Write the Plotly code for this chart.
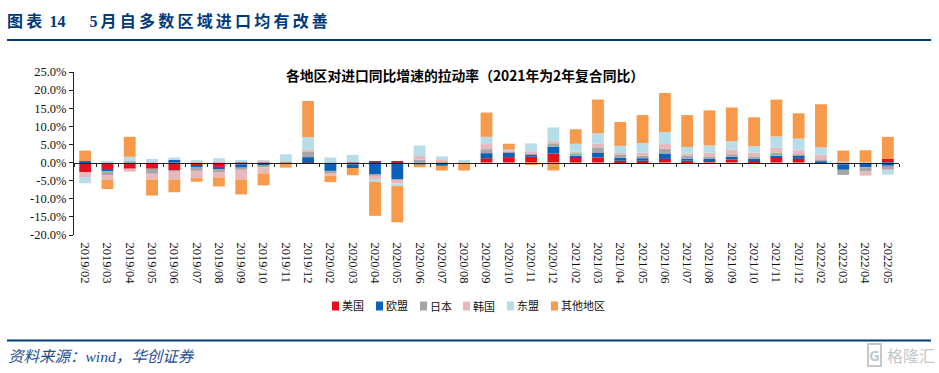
import plotly.graph_objects as go

months = ["2019/02","2019/03","2019/04","2019/05","2019/06","2019/07","2019/08","2019/09","2019/10","2019/11","2019/12",
          "2020/02","2020/03","2020/04","2020/05","2020/06","2020/07","2020/08","2020/09","2020/10","2020/11","2020/12",
          "2021/02","2021/03","2021/04","2021/05","2021/06","2021/07","2021/08","2021/09","2021/10","2021/11","2021/12",
          "2022/02","2022/03","2022/04","2022/05"]
us     = [-2.7,-1.8,-1.7,-1.7,-2.1,-0.7,-1.2,-0.5,-0.4,0,-0.3, 0,-0.5,0.4,0.4,0,0,0, 1.2,1.5,1.6,2.5, 1.5,1.4,0.5,0.5,1.0,0.5,0.7,0.8,0.5,1.4,1.0, 0.3,-0.5,0,1.0]
eu     = [0.4,-0.6,0,0,0.7,-0.5,-0.6,-0.9,-0.3,0,1.5, -2.3,-1.0,-3.2,-4.6,-0.6,-0.9,0, 1.4,1.2,0.6,1.9, 0.4,1.4,0.8,0.7,1.5,0.6,0.4,0.8,0.5,0.5,0.9, -0.4,-1.5,-1.3,-0.9]
japan  = [0,-1.2,0.3,-1.4,-0.3,-1.1,-0.8,-0.6,-0.6,0.2,1.5, -0.8,0,-0.4,-0.2,0.8,0.3,0, 1.1,0.3,0.4,0.9, 0.6,1.4,0.8,0.7,1.3,0.7,0.6,0.7,0.7,0.8,0.3, 0.6,-1.4,-1.2,-1.0]
korea  = [-1.3,-1.2,-0.8,-1.6,-2.3,-2.0,-1.5,-2.7,-1.7,0,0.5, -0.5,0,-1.2,-1.0,1.0,0.4,0, 1.4,0.3,0.5,0.6, 0.5,1.0,0.5,0.8,1.3,0.7,1.0,1.3,1.0,1.4,1.2, 1.3,0.2,-1.1,-0.2]
asean  = [-1.7,0.4,1.3,1.0,0.7,0.7,1.2,0.7,0.7,2.1,3.5, 1.4,2.1,-0.5,-0.7,2.9,1.0,0.7, 2.0,0.3,2.2,3.8, 2.2,2.9,2.0,2.7,3.3,1.8,2.0,2.3,1.8,3.1,3.2, 2.0,0.1,0.1,-1.2]
others = [2.9,-2.5,5.5,-4.4,-3.5,-1.0,-2.5,-4.1,-3.3,-1.4,10.0, -1.8,-2.0,-9.4,-10.0,-0.7,-1.3,-2.2, 6.7,1.6,-0.7,-2.2, 4.0,9.3,6.6,7.7,10.8,8.8,9.7,9.3,8.0,10.2,7.0, 11.9,3.0,3.3,6.1]

names = ["美国","欧盟","日本","韩国","东盟","其他地区"]
colors = ["#E3101E","#0A62B8","#A6A6A6","#E8B9BB","#B7DDE9","#F79A4B"]
series = [us, eu, japan, korea, asean, others]
ytick_vals = [-20,-15,-10,-5,0,5,10,15,20,25]
ytick_text = ["-20.0%","-15.0%","-10.0%","-5.0%","0.0%","5.0%","10.0%","15.0%","20.0%","25.0%"]
legend_px = [332, 376, 420, 463, 507, 551]

SERIF = "Liberation Serif, Noto Sans CJK SC"
NAVY = "#003A7D"
L, R, T, B = 74, 899, 72, 235
W, H = R - L, B - T
px = lambda v: (v - L) / W
py = lambda v: (B - v) / H

fig = go.Figure()
for name, color, vals in zip(names, colors, series):
    fig.add_bar(x=months, y=vals, name=name, showlegend=False, marker=dict(color=color, line=dict(width=0)))
fig.add_scatter(x=[None], y=[None], xaxis="x2", showlegend=False, hoverinfo="skip")

shapes = [
    dict(type="line", xref="paper", yref="paper", x0=px(7), x1=px(931), y0=py(40), y1=py(40), line=dict(color=NAVY, width=2)),
    dict(type="line", xref="paper", yref="paper", x0=px(7), x1=px(931), y0=py(340.5), y1=py(340.5), line=dict(color=NAVY, width=2)),
]
annotations = [
    dict(text="<b>各地区对进口同比增速的拉动率（2021年为2年复合同比）</b>", xref="paper", yref="paper",
         x=px(465), y=py(75), xanchor="center", yanchor="middle", showarrow=False,
         font=dict(size=13.8, color="black", family="Noto Sans CJK SC, Liberation Serif")),
    dict(text="<b>图\u2009表\u2009 14 \u2003 5\u2009月\u2009自\u2009多\u2009数\u2009区\u2009域\u2009进\u2009口\u2009均\u2009有\u2009改\u2009善</b>",
         xref="paper", yref="paper", x=px(5), y=py(21), xanchor="left", yanchor="middle", showarrow=False,
         font=dict(size=16, color=NAVY, family=SERIF)),
    dict(text="<i>资料来源：wind，华创证券</i>", xref="paper", yref="paper",
         x=px(6), y=py(356), xanchor="left", yanchor="middle", showarrow=False,
         font=dict(size=15.5, color="#1F4E96", family=SERIF)),
    dict(text="格隆汇", xref="paper", yref="paper", x=px(937), y=py(355),
         xanchor="right", yanchor="middle", showarrow=False,
         font=dict(size=16, color="#C4C8CC", family="Noto Sans CJK SC")),
    dict(text="<b>G</b>", xref="paper", yref="paper", x=px(874), y=py(355), xanchor="center", yanchor="middle",
         showarrow=False, bordercolor="#C4C8CC", borderwidth=2, borderpad=0,
         font=dict(size=15, color="#C4C8CC", family="Noto Sans")),
]
for name, color, x0 in zip(names, colors, legend_px):
    shapes.append(dict(type="rect", xref="paper", yref="paper", x0=px(x0), x1=px(x0 + 7), y0=py(310.5), y1=py(301.5),
                       fillcolor=color, line=dict(width=0)))
    annotations.append(dict(text=name, xref="paper", yref="paper", x=px(x0 + 8), y=py(306), xanchor="left",
                            yanchor="middle", showarrow=False, font=dict(size=11, color="#111111", family=SERIF)))

fig.update_layout(
    width=939, height=373, autosize=False,
    margin=dict(l=L, r=939 - R, t=T, b=373 - B),
    paper_bgcolor="white", plot_bgcolor="white",
    barmode="relative", bargap=0.47,
    font=dict(family=SERIF, color="#111111"),
    xaxis=dict(type="category", categoryorder="array", categoryarray=months, range=[-0.5, 36.5],
               showline=False, showgrid=False, zeroline=False, ticks="outside", tickcolor="rgba(0,0,0,0)", ticklen=4,
               tickangle=90, tickfont=dict(size=12.5, family=SERIF)),
    xaxis2=dict(overlaying="x", anchor="free", position=4/9, range=[-0.5, 36.5], tick0=-0.5, dtick=1,
                showline=True, linecolor="#222222", linewidth=1.3, ticks="outside", ticklen=3,
                tickcolor="#222222", showticklabels=False, showgrid=False, zeroline=False),
    yaxis=dict(range=[-20, 25], tickvals=ytick_vals, ticktext=ytick_text, showgrid=False, zeroline=False,
               showline=True, linecolor="#222222", linewidth=1, ticks="outside", ticklen=4,
               tickcolor="#222222", tickfont=dict(size=12.5, family=SERIF)),
    shapes=shapes, annotations=annotations,
)
fig.write_html("out.html", config={"displayModeBar": False}, post_script="document.body.style.margin='0';")
